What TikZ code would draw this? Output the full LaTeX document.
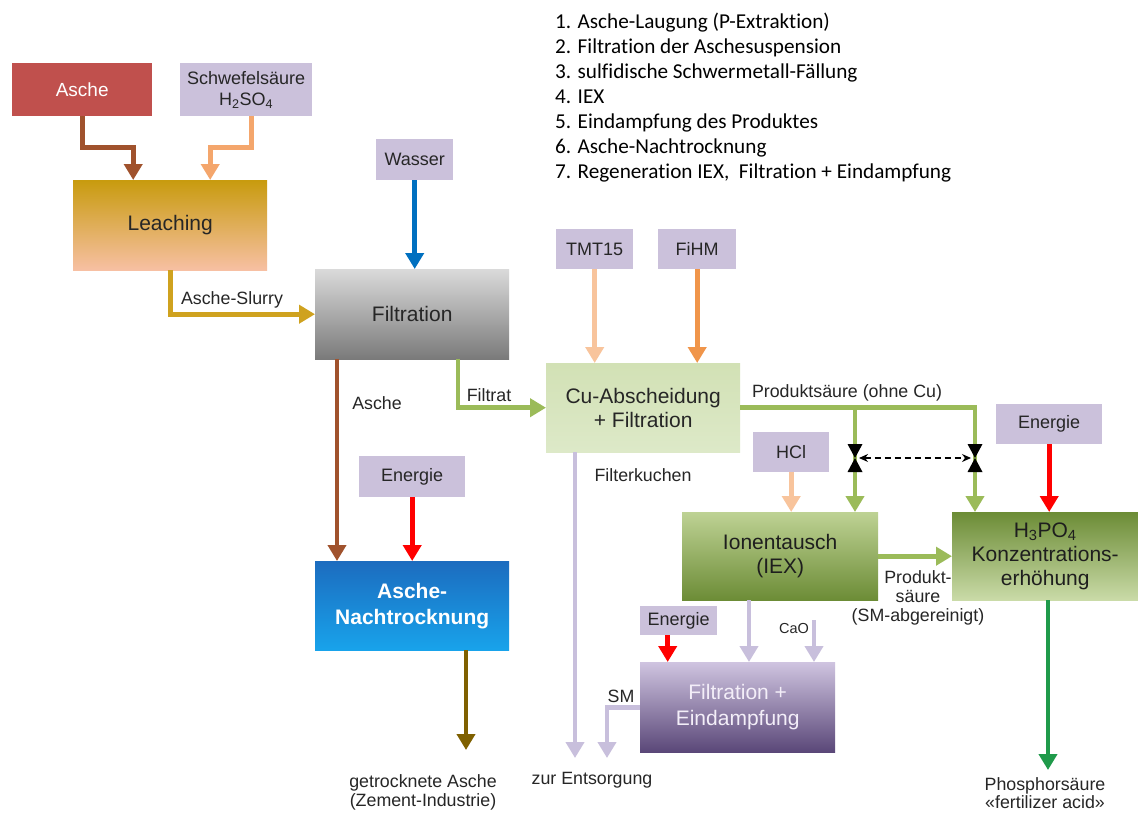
\documentclass[tikz,border=0pt]{standalone}
\usepackage{fontspec}
\setmainfont{Liberation Sans}
\newfontfamily\listfont[Ligatures={NoCommon}]{Carlito}
\usetikzlibrary{arrows.meta}
\definecolor{txt}{HTML}{262626}
\definecolor{ascheRed}{HTML}{C0504D}
\definecolor{lav}{HTML}{CBC1DB}
\definecolor{lavA}{HTML}{C8BFDC}
\definecolor{brownA}{HTML}{A0522D}
\definecolor{peachA}{HTML}{F4A66C}
\definecolor{peachB}{HTML}{F8C49C}
\definecolor{orangeA}{HTML}{F0954A}
\definecolor{goldA}{HTML}{CFA21F}
\definecolor{blueA}{HTML}{0070C0}
\definecolor{greenA}{HTML}{9BBB59}
\definecolor{redA}{HTML}{FF0000}
\definecolor{oliveA}{HTML}{7F6000}
\definecolor{greenB}{HTML}{1F9A4A}
\begin{document}
\begin{tikzpicture}[x=1pt,y=-1pt,
  box/.style={rectangle, inner sep=0pt, anchor=north west, align=center, text=txt, font=\fontsize{21}{24}\selectfont},
  inbox/.style={box, fill=lav, font=\fontsize{18}{21}\selectfont},
  arr/.style={line width=4.8pt, -{Triangle[width=18pt,length=16pt]}},
  pipe/.style={line width=4.8pt},
  lbl/.style={font=\fontsize{17.8}{19}\selectfont, text=txt, align=center, inner sep=0pt},
  listline/.style={anchor=base west, inner sep=0pt, font=\listfont\fontsize{21.2}{24}\selectfont, text=black}
]
\fill[white] (0,0) rectangle (1138,814);
\useasboundingbox (0,0) rectangle (1138,814);

% list
\node[listline] (l1) at (555,28) {1. Asche-Laugung (P-Extraktion)};
\node[listline] (l2) at (555,53) {2. Filtration der Aschesuspension};
\node[listline] (l3) at (555,78) {3. sulfidische Schwermetall-Fällung};
\node[listline] (l4) at (555,103) {4. IEX};
\node[listline] (l5) at (555,128) {5. Eindampfung des Produktes};
\node[listline] (l6) at (555,153) {6. Asche-Nachtrocknung};
\node[listline] (l7) at (555,178) {7. Regeneration IEX,~ Filtration + Eindampfung};

% boxes
\node[box, fill=ascheRed, text=white, font=\fontsize{19}{22}\selectfont, minimum width=140pt, minimum height=53pt] (asche) at (12,63) {Asche};
\node[inbox, minimum width=132pt, minimum height=53pt] (schw) at (180,63) {Schwefelsäure\\H\textsubscript{2}SO\textsubscript{4}};
\node[box, top color={rgb,255:red,200;green,155;blue,14}, middle color={rgb,255:red,180;green,138;blue,26}, bottom color={rgb,255:red,247;green,192;blue,163}, minimum width=194pt, minimum height=90pt] (leach) at (73,180) {Leaching};
\node[inbox, minimum width=77pt, minimum height=41pt] (wasser) at (376,139) {Wasser};
\node[box, top color={rgb,255:red,218;green,218;blue,218}, middle color={rgb,255:red,196;green,196;blue,196}, bottom color={rgb,255:red,122;green,122;blue,122}, minimum width=194pt, minimum height=90pt] (filt) at (315,269) {Filtration};
\node[inbox, minimum width=77pt, minimum height=40pt] (tmt) at (556,229) {TMT15};
\node[inbox, minimum width=78pt, minimum height=40pt] (fihm) at (658,229) {FiHM};
\node[box, top color={rgb,255:red,210;green,225;blue,181}, bottom color={rgb,255:red,221;green,233;blue,200}, minimum width=194pt, minimum height=89pt] (cu) at (546,363) {Cu-Abscheidung\\+ Filtration};
\node[inbox, minimum width=76pt, minimum height=40pt] (hcl) at (753,432) {HCl};
\node[inbox, minimum width=106pt, minimum height=40pt] (eng3) at (996,404) {Energie};
\node[box, top color={rgb,255:red,190;green,210;blue,148}, bottom color={rgb,255:red,108;green,140;blue,54}, text={rgb,255:red,30;green,30;blue,30}, minimum width=196pt, minimum height=88pt] (iex) at (682,512) {Ionentausch\\(IEX)};
\node[box, top color={rgb,255:red,108;green,140;blue,54}, bottom color={rgb,255:red,202;green,219;blue,168}, text={rgb,255:red,30;green,30;blue,30}, minimum width=186pt, minimum height=88pt] (h3) at (952,512) {H\textsubscript{3}PO\textsubscript{4}\\Konzentrations-\\erhöhung};
\node[inbox, minimum width=106pt, minimum height=41pt] (eng2) at (359,456) {Energie};
\node[box, top color={rgb,255:red,28;green,108;blue,191}, middle color={rgb,255:red,18;green,135;blue,214}, bottom color={rgb,255:red,24;green,163;blue,235}, text=white, font=\bfseries\fontsize{21}{26}\selectfont, minimum width=194pt, minimum height=89pt] (nacht) at (315,561) {Asche-\\Nachtrocknung};
\node[inbox, minimum width=77pt, minimum height=29pt] (eng4) at (640,606) {Energie};
\node[box, top color={rgb,255:red,207;green,196;blue,224}, middle color={rgb,255:red,165;green,150;blue,194}, bottom color={rgb,255:red,90;green,71;blue,120}, text={rgb,255:red,243;green,238;blue,248}, font=\fontsize{21}{26}\selectfont, minimum width=195pt, minimum height=90pt] (fe) at (640,662) {Filtration +\\Eindampfung};

% free ends
\coordinate (ents1) at (575,758);
\coordinate (ents2) at (607,758);
\coordinate (dry) at (466,750);
\coordinate (phosend) at (1048,770);
\coordinate (cao) at (814,620);
\coordinate (v1) at (855,458);
\coordinate (v2) at (975,458);
\coordinate (iexout) at ([xshift=67pt]iex.south west);
\coordinate (eng4out) at ([xshift=-11pt]eng4.south);

% connectors
\draw[arr, brownA] (asche.south) -- ++(0,31) -| ([xshift=-37pt]leach.north);
\draw[arr, peachA] ([xshift=5pt]schw.south) -- ++(0,31) -| ([xshift=40pt]leach.north);
\draw[arr, goldA] (leach.south) |- (filt.west);
\draw[arr, blueA] (wasser.south) -- (wasser.south |- filt.north);
\draw[arr, brownA] ([xshift=22pt]filt.south west) -- ([xshift=22pt]nacht.north west);
\draw[arr, greenA] ([xshift=143pt]filt.south west) |- (cu.west);
\draw[arr, peachB] (tmt.south) -- (tmt.south |- cu.north);
\draw[arr, orangeA] (fihm.south) -- (fihm.south |- cu.north);
\draw[arr, lavA] ([xshift=29pt]cu.south west) -- (ents1);
\draw[arr, greenA] (cu.east) -| (h3.north -| v2);
\draw[arr, greenA] (cu.east -| v1) -- (iex.north -| v1);
\draw[arr, peachB] (hcl.south) -- (hcl.south |- iex.north);
\draw[arr, redA] (eng3.south) -- (eng3.south |- h3.north);
\draw[arr, greenA] (iex.east) -- (h3.west);
\draw[arr, greenB] (h3.south -| phosend) -- (phosend);
\draw[arr, redA] (eng2.south) -- (eng2.south |- nacht.north);
\draw[arr, oliveA] (nacht.south -| dry) -- (dry);
\draw[arr, lavA] (iexout) -- (iexout |- fe.north);
\draw[arr, lavA] (cao) -- (cao |- fe.north);
\draw[arr, redA] (eng4out) -- (eng4out |- fe.north);
\draw[arr, lavA] (fe.west) -| (ents2);

% valves
\foreach \v in {v1,v2}{
  \fill[black] (\v) -- ++(-7.5,-14) -- ++(15,0) -- cycle;
  \fill[black] (\v) -- ++(-7.5,14) -- ++(15,0) -- cycle;
}
\draw[dash pattern=on 6pt off 4pt, line width=1.2pt, {Stealth[length=9pt,width=8pt]}-{Stealth[length=9pt,width=8pt]}] ([xshift=4pt]v1) -- ([xshift=-4pt]v2);

% labels
\node[lbl] (tslurry) at (232,300) {Asche-Slurry};
\node[lbl] (tasche) at (377,403) {Asche};
\node[lbl] (tfiltrat) at (489,395) {Filtrat};
\node[lbl] (tkuchen) at (643,475) {Filterkuchen};
\node[lbl] (tprod) at (847,393) {Produktsäure (ohne Cu)};
\node[lbl] (tprod2) at (918,598) {Produkt-\\säure\\(SM-abgereinigt)};
\node[lbl, font=\fontsize{14.5}{17}\selectfont] (tcao) at (794,628) {CaO};
\node[lbl] (tsm) at (621,696) {SM};
\node[lbl] (tents) at (592,780) {zur Entsorgung};
\node[lbl] (tdry) at (423,792) {getrocknete Asche\\(Zement-Industrie)};
\node[lbl, font=\fontsize{17.8}{17.5}\selectfont] (tphos) at (1045,793) {Phosphorsäure\\«fertilizer acid»};
\end{tikzpicture}
\end{document}
